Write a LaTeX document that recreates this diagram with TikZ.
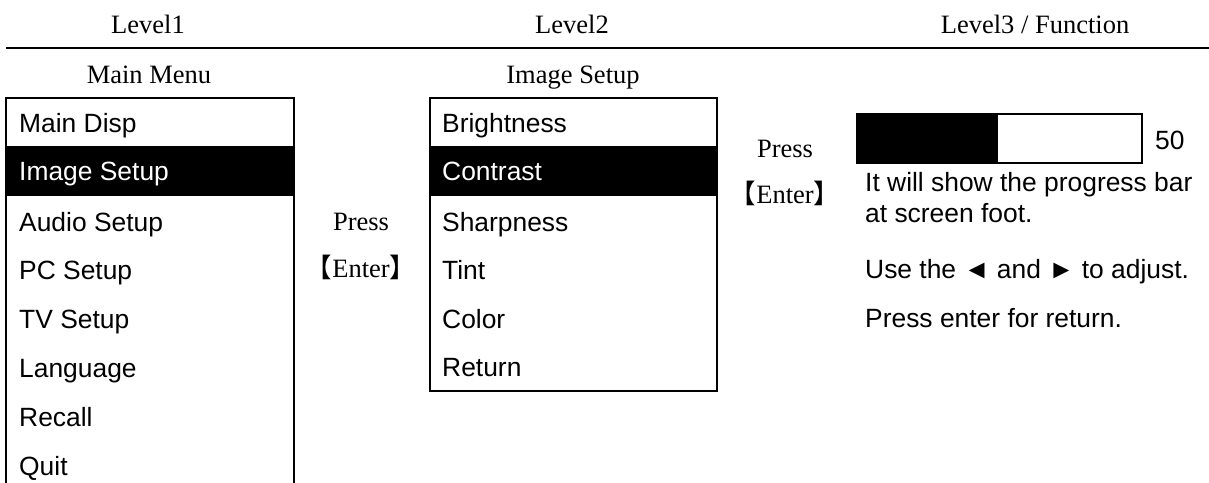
\documentclass[tikz,border=0pt]{standalone}
\usepackage{fontspec}
\setmainfont{Liberation Serif}
\newfontfamily\arialf{Liberation Sans}
\newfontfamily\cjk{Noto Sans CJK SC}
\begin{document}
\begin{tikzpicture}[x=1pt,y=-1pt,
  serif/.style={font=\fontsize{26.5}{30}\selectfont, inner sep=0pt, anchor=base},
  sans/.style={font=\arialf\fontsize{26.4}{30}\selectfont, inner sep=0pt, anchor=base west},
  boxline/.style={line width=2pt},
  hl/.style={fill=black}]
\clip (0,0) rectangle (1209,482);
\fill[white] (0,0) rectangle (1209,482);
% headers
\node[serif] (h1) at (148,33) {Level1};
\node[serif] (h2) at (572,33) {Level2};
\node[serif] (h3) at (1035,33) {Level3 / Function};
\coordinate (ls) at (6,48);
\coordinate (le) at (1209,48);
\draw[boxline] (ls) -- (le);
% titles
\node[serif] (t1) at (149,83) {Main Menu};
\node[serif] (t2) at (573,83) {Image Setup};
% main menu box
\fill[hl] (6,146) rectangle (293,196);
\draw[boxline] (6,500) -- (6,98) -- (294,98) -- (294,500);
\node[sans] (m1) at (19,132) {Main Disp};
\node[sans, text=white] (m2) at (19,180) {Image Setup};
\node[sans] (m3) at (19,231) {Audio Setup};
\node[sans] (m4) at (19,279) {PC Setup};
\node[sans] (m5) at (19,328) {TV Setup};
\node[sans] (m6) at (19,377) {Language};
\node[sans] (m7) at (19,426) {Recall};
\node[sans] (m8) at (19,475) {Quit};
% press enter 1
\node[serif] (p1) at (361,230) {Press};
\node[serif] (e1) at (361,277) {{\cjk 【}Enter{\cjk 】}};
% image setup box
\fill[hl] (430,146) rectangle (716,196);
\draw[boxline] (430,98) rectangle (717,391);
\node[sans] (s1) at (442,132) {Brightness};
\node[sans, text=white] (s2) at (442,180) {Contrast};
\node[sans] (s3) at (442,231) {Sharpness};
\node[sans] (s4) at (442,279) {Tint};
\node[sans] (s5) at (442,328) {Color};
\node[sans] (s6) at (442,376) {Return};
% press enter 2
\node[serif] (p2) at (785,157) {Press};
\node[serif] (e2) at (785,203) {{\cjk 【}Enter{\cjk 】}};
% progress bar
\fill[black] (857,114) rectangle (998,163);
\draw[boxline] (857,114) rectangle (1142,163);
\node[sans] (v) at (1155,149) {50};
\node[sans] (d1) at (865,191) {It will show the progress bar};
\node[sans] (d2) at (865,222) {at screen foot.};
\node[sans] (d3) at (865,278) {Use the ◄ and ► to adjust.};
\node[sans] (d4) at (865,327) {Press enter for return.};
\end{tikzpicture}
\end{document}
